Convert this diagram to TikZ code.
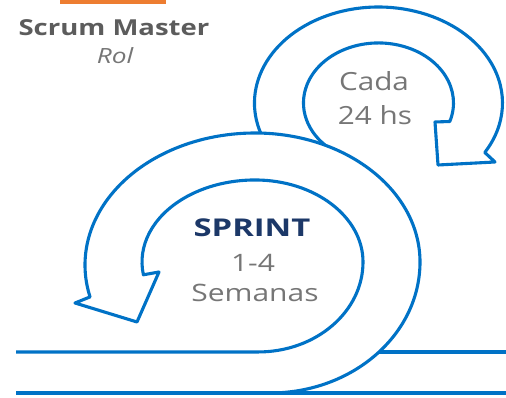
\documentclass[tikz,border=0pt]{standalone}
\usepackage{fontspec}
\setmainfont{Open Sans}
\definecolor{loopblue}{RGB}{0,114,198}
\definecolor{txtgray}{RGB}{118,118,118}
\definecolor{darkgray}{RGB}{92,92,92}
\definecolor{navy}{RGB}{28,56,104}
\definecolor{boxorange}{RGB}{237,125,49}
\tikzset{
  edge/.style={draw=loopblue, line width=3.1pt, line join=round},
  lbl/.style={anchor=base, inner sep=0pt, xscale=1.25},
}
\begin{document}
\begin{tikzpicture}[x=1pt,y=1pt]
\useasboundingbox (0,0) rectangle (506,398);
% orange box (bottom edge only visible)
\fill[boxorange] (60,394) rectangle (166,398);
% key points
\coordinate (lineL) at (16,46);
\coordinate (lineR) at (506,46);
\coordinate (botL) at (16,5);
\coordinate (botR) at (506,5);
\coordinate (cross) at (379,46);
% small loop (behind)
\path[edge, fill=white] (266.1,254.4)
  arc[start angle=205, end angle=-31, x radius=124, y radius=96]
  -- (495,236) -- (438,233) -- (435,276) -- (449.8,276.5)
  arc[start angle=-18, end angle=230, x radius=75, y radius=60] -- cycle;
% big loop fill
\fill[white] (270,5)
  arc[start angle=-90, end angle=0, x radius=150, y radius=131]
  arc[start angle=0, end angle=90, x radius=165, y radius=129]
  arc[start angle=90, end angle=194, x radius=170, y radius=132]
  -- (75,95) -- (137,76) -- (159,126) -- (143.4,123.2)
  arc[start angle=189, end angle=90, x radius=113, y radius=82]
  arc[start angle=90, end angle=0, x radius=108, y radius=82]
  arc[start angle=0, end angle=-90, x radius=105, y radius=90] -- cycle;
% big loop edges
\draw[edge] (270,5)
  arc[start angle=-90, end angle=0, x radius=150, y radius=131]
  arc[start angle=0, end angle=90, x radius=165, y radius=129]
  arc[start angle=90, end angle=194, x radius=170, y radius=132]
  -- (75,95) -- (137,76) -- (159,126) -- (143.4,123.2)
  arc[start angle=189, end angle=90, x radius=113, y radius=82]
  arc[start angle=90, end angle=0, x radius=108, y radius=82]
  arc[start angle=0, end angle=-90, x radius=105, y radius=90] -- (lineL);
% straight lines
\draw[edge] (botL) -- (botR);
\draw[edge] (cross) -- (lineR);
% texts
\node[lbl, font=\bfseries\fontsize{22}{25}\selectfont, text=darkgray] (sm) at (114,362) {Scrum Master};
\node[lbl, font=\itshape\fontsize{21}{24}\selectfont, text=txtgray] (rol) at (115,334) {Rol};
\node[lbl, font=\fontsize{25}{28}\selectfont, text=txtgray, xscale=0.95] (cada) at (374,307) {Cada};
\node[lbl, font=\fontsize{25}{28}\selectfont, text=txtgray, xscale=0.95] (hs) at (375,273) {24 hs};
\node[lbl, font=\bfseries\fontsize{24.5}{27}\selectfont, text=navy, xscale=1.07] (sprint) at (252,161) {SPRINT};
\node[lbl, font=\fontsize{24}{27}\selectfont, text=txtgray] (num) at (253,126.3) {1-4};
\node[lbl, font=\fontsize{24}{27}\selectfont, text=txtgray] (sem) at (255,96.3) {Semanas};
\end{tikzpicture}
\end{document}
